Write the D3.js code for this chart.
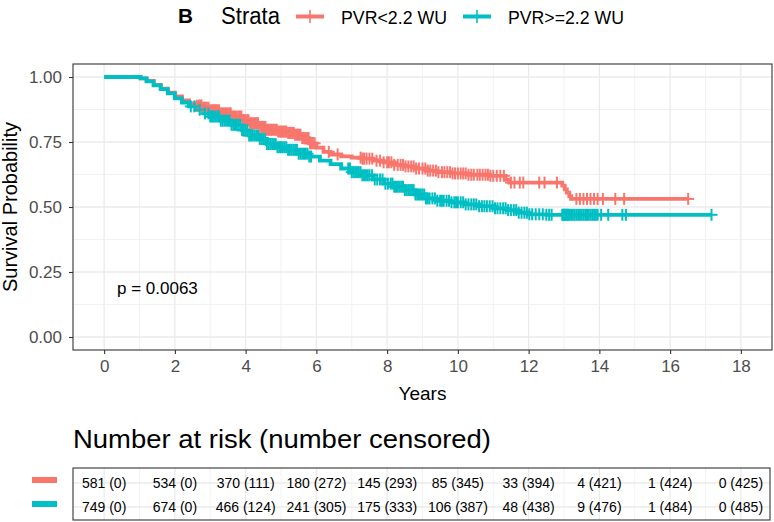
<!DOCTYPE html>
<html>
<head>
<meta charset="utf-8">
<script src="https://cdn.jsdelivr.net/npm/d3@7"></script>
<style>
  body { margin: 0; background: #fff; }
  svg { font-family: "Liberation Sans", Arial, sans-serif; display: block; }
</style>
</head>
<body>
<div id="chart"></div>
<script>
// strata
const strata = ["PVR<2.2 WU", "PVR>=2.2 WU"];
const colors = ["#F8766D", "#00BFC4"];

// KM steps (years, survival)
const timeRed = [0, 1.03, 1.2, 1.4, 1.6, 1.8, 2.0, 2.2, 2.4, 2.6, 2.8, 3.0, 3.3, 3.6, 3.9, 4.1, 4.4, 4.6, 4.9, 5.2, 5.4, 5.6, 5.8, 6.0, 6.2, 6.4, 6.7, 7.0, 7.3, 7.6, 7.9, 8.2, 8.5, 8.8, 9.1, 9.4, 9.8, 10.3, 10.9, 11.35, 11.45, 12.95, 13.02, 13.08, 13.15, 13.2];
const survRed = [1, 0.995, 0.985, 0.97, 0.955, 0.94, 0.925, 0.91, 0.898, 0.89, 0.882, 0.872, 0.86, 0.848, 0.834, 0.822, 0.808, 0.797, 0.79, 0.785, 0.778, 0.765, 0.745, 0.728, 0.712, 0.702, 0.695, 0.69, 0.686, 0.678, 0.672, 0.662, 0.656, 0.648, 0.64, 0.634, 0.629, 0.624, 0.62, 0.605, 0.594, 0.582, 0.568, 0.555, 0.542, 0.531];
const censorRed = [2.62, 2.68, 2.72, 2.75, 2.8, 2.85, 2.9, 2.95, 3.0, 3.05, 3.09, 3.12, 3.16, 3.2, 3.25, 3.3, 3.34, 3.38, 3.42, 3.45, 3.5, 3.55, 3.58, 3.62, 3.66, 3.7, 3.75, 3.8, 3.84, 3.88, 3.92, 3.95, 4.0, 4.05, 4.08, 4.12, 4.16, 4.2, 4.24, 4.28, 4.32, 4.35, 4.4, 4.45, 4.48, 4.52, 4.56, 4.6, 4.64, 4.68, 4.72, 4.75, 4.8, 4.85, 4.88, 4.92, 4.96, 5.0, 5.04, 5.08, 5.12, 5.15, 5.2, 5.25, 5.28, 5.32, 5.36, 5.4, 5.44, 5.48, 5.52, 5.55, 5.6, 5.62, 5.66, 5.7, 5.74, 5.78, 5.82, 5.85, 5.9, 5.95, 6.35, 6.6, 7.25, 7.3, 7.35, 7.42, 7.5, 7.58, 7.7, 7.8, 7.9, 8.0, 8.05, 8.12, 8.2, 8.3, 8.38, 8.45, 8.52, 8.6, 8.68, 8.75, 8.82, 8.9, 9.0, 9.08, 9.15, 9.22, 9.3, 9.38, 9.45, 9.55, 9.62, 9.7, 9.78, 9.85, 9.92, 10.0, 10.08, 10.15, 10.22, 10.3, 10.38, 10.45, 10.55, 10.62, 10.7, 10.78, 10.85, 10.92, 11.0, 11.1, 11.2, 11.3, 11.5, 11.6, 11.75, 11.85, 12.3, 12.45, 12.8, 13.35, 13.45, 13.55, 13.65, 13.75, 13.85, 13.95, 14.1, 14.45, 14.7, 16.51];

const timeCyan = [0, 1.03, 1.2, 1.4, 1.6, 1.8, 2.0, 2.2, 2.4, 2.6, 2.8, 3.0, 3.3, 3.6, 3.9, 4.1, 4.4, 4.6, 4.9, 5.2, 5.5, 5.8, 6.1, 6.4, 6.7, 7.0, 7.3, 7.6, 7.9, 8.2, 8.5, 8.8, 9.1, 9.4, 9.8, 10.2, 10.6, 11.0, 11.4, 11.7, 12.0, 12.5];
const survCyan = [1, 0.995, 0.983, 0.968, 0.953, 0.937, 0.918, 0.902, 0.887, 0.874, 0.86, 0.848, 0.832, 0.816, 0.795, 0.775, 0.762, 0.742, 0.73, 0.72, 0.705, 0.694, 0.678, 0.665, 0.648, 0.634, 0.622, 0.606, 0.59, 0.578, 0.565, 0.548, 0.533, 0.524, 0.518, 0.51, 0.503, 0.495, 0.488, 0.478, 0.472, 0.47];
const censorCyan = [2.45, 2.55, 2.7, 2.85, 2.95, 3.0, 3.05, 3.1, 3.15, 3.2, 3.25, 3.3, 3.35, 3.4, 3.45, 3.5, 3.55, 3.6, 3.65, 3.7, 3.75, 3.8, 3.85, 3.9, 3.95, 4.0, 4.05, 4.1, 4.15, 4.2, 4.25, 4.3, 4.35, 4.4, 4.45, 4.5, 4.55, 4.6, 4.65, 4.7, 4.75, 4.8, 4.85, 4.9, 4.95, 5.0, 5.05, 5.1, 5.15, 5.2, 5.25, 5.3, 5.35, 5.4, 5.45, 5.5, 5.55, 5.6, 5.65, 5.7, 5.75, 5.8, 5.85, 6.9, 6.95, 7.0, 7.05, 7.1, 7.15, 7.2, 7.25, 7.3, 7.35, 7.4, 7.45, 7.5, 7.57, 7.65, 7.72, 7.8, 7.87, 7.95, 8.02, 8.1, 8.15, 8.2, 8.25, 8.3, 8.35, 8.4, 8.45, 8.5, 8.55, 8.6, 8.65, 8.7, 8.75, 8.8, 8.85, 8.9, 8.95, 9.0, 9.05, 9.1, 9.15, 9.2, 9.28, 9.35, 9.42, 9.5, 9.55, 9.6, 9.68, 9.75, 9.82, 9.9, 9.95, 10.0, 10.08, 10.15, 10.22, 10.3, 10.38, 10.45, 10.52, 10.6, 10.68, 10.75, 10.82, 10.9, 10.98, 11.05, 11.12, 11.2, 11.28, 11.35, 11.42, 11.5, 11.58, 11.65, 11.72, 11.8, 11.88, 11.95, 12.02, 12.1, 12.2, 12.3, 12.4, 12.5, 12.58, 12.65, 12.95, 12.98, 13.0, 13.02, 13.05, 13.08, 13.1, 13.12, 13.15, 13.2, 13.25, 13.3, 13.35, 13.4, 13.45, 13.5, 13.55, 13.6, 13.65, 13.7, 13.75, 13.8, 13.85, 13.9, 13.95, 14.05, 14.25, 14.65, 14.75, 17.17];

// risk table
const riskTimes = [0, 2, 4, 6, 8, 10, 12, 14, 16, 18];
const riskRed = [581, 534, 370, 180, 145, 85, 33, 4, 1, 0];
const censRed = [0, 0, 111, 272, 293, 345, 394, 421, 424, 425];
const riskCyan = [749, 674, 466, 241, 175, 106, 48, 9, 1, 0];
const censCyan = [0, 0, 124, 305, 333, 387, 438, 476, 484, 485];

const xTicks = [0, 2, 4, 6, 8, 10, 12, 14, 16, 18];
const yTicks = [0, 0.25, 0.5, 0.75, 1];
const pText = "p = 0.0063";

const W = 774, H = 522;
const panel = {left: 73, right: 772, top: 64, bottom: 350};
const tbl = {top: 468, bottom: 520};

const svg = d3.select("#chart").append("svg")
  .attr("width", W).attr("height", H);

const x = d3.scaleLinear().domain([-0.88, 18.88]).range([panel.left, panel.right]);
const y = d3.scaleLinear().domain([-0.05, 1.05]).range([panel.bottom, panel.top]);

// grid
const grid = svg.append("g");
d3.range(1, 18, 2).forEach(v => {
  grid.append("line").attr("x1", x(v)).attr("x2", x(v))
    .attr("y1", panel.top).attr("y2", panel.bottom)
    .attr("stroke", "#EFEFEF").attr("stroke-width", 0.9);
});
[0.125, 0.375, 0.625, 0.875].forEach(v => {
  grid.append("line").attr("x1", panel.left).attr("x2", panel.right)
    .attr("y1", y(v)).attr("y2", y(v))
    .attr("stroke", "#EFEFEF").attr("stroke-width", 0.9);
});
xTicks.forEach(v => {
  grid.append("line").attr("x1", x(v)).attr("x2", x(v))
    .attr("y1", panel.top).attr("y2", panel.bottom)
    .attr("stroke", "#EBEBEB").attr("stroke-width", 1.3);
});
yTicks.forEach(v => {
  grid.append("line").attr("x1", panel.left).attr("x2", panel.right)
    .attr("y1", y(v)).attr("y2", y(v))
    .attr("stroke", "#EBEBEB").attr("stroke-width", 1.3);
});

// curves
const series = [
  {t: timeRed, s: survRed, c: censorRed, col: colors[0]},
  {t: timeCyan, s: survCyan, c: censorCyan, col: colors[1]}
];
const survAt = (sr, t) => {
  let v = sr.s[0];
  for (let i = 0; i < sr.t.length; i++) { if (sr.t[i] <= t) v = sr.s[i]; }
  return v;
};
const line = d3.line().x(d => x(d[0])).y(d => y(d[1])).curve(d3.curveStepAfter);

series.forEach(sr => {
  const pts = sr.t.map((t, i) => [t, sr.s[i]]);
  const last = d3.max(sr.c);
  pts.push([last, survAt(sr, last)]);
  svg.append("path").datum(pts)
    .attr("d", line)
    .attr("fill", "none")
    .attr("stroke", sr.col)
    .attr("stroke-width", 3.8);
});

series.forEach(sr => {
  const g = svg.append("g").attr("stroke", sr.col).attr("stroke-width", 2);
  sr.c.forEach(t => {
    const cx = x(t), cy = y(survAt(sr, t));
    g.append("line").attr("x1", cx).attr("x2", cx).attr("y1", cy - 6).attr("y2", cy + 6);
    g.append("line").attr("x1", cx - 6).attr("x2", cx + 6).attr("y1", cy).attr("y2", cy);
  });
});

// panel border
svg.append("rect")
  .attr("x", panel.left).attr("y", panel.top)
  .attr("width", panel.right - panel.left).attr("height", panel.bottom - panel.top)
  .attr("fill", "none").attr("stroke", "#333").attr("stroke-width", 1.1);

// axes
const xAxis = svg.append("g")
  .attr("transform", `translate(0,${panel.bottom})`)
  .call(d3.axisBottom(x).tickValues(xTicks).tickSize(4).tickPadding(6));
const yAxis = svg.append("g")
  .attr("transform", `translate(${panel.left},0)`)
  .call(d3.axisLeft(y).tickValues(yTicks).tickFormat(d3.format(".2f")).tickSize(4).tickPadding(7));
[xAxis, yAxis].forEach(a => {
  a.select(".domain").remove();
  a.selectAll(".tick line").attr("stroke", "#333").attr("stroke-width", 1.1);
  a.selectAll(".tick text").attr("fill", "#4D4D4D")
    .style("font-size", "17px").style("font-family", "Liberation Sans, Arial, sans-serif");
});

svg.append("text")
  .attr("x", (panel.left + panel.right) / 2).attr("y", 400)
  .attr("text-anchor", "middle").style("font-size", "19px")
  .text("Years");
svg.append("text")
  .attr("transform", `translate(17,${(panel.top + panel.bottom) / 2}) rotate(-90)`)
  .attr("text-anchor", "middle").style("font-size", "20px")
  .text("Survival Probability");

svg.append("text")
  .attr("x", 117).attr("y", 294).style("font-size", "17px")
  .text(pText);

// top legend
svg.append("text").attr("x", 178).attr("y", 23)
  .style("font-size", "21px").style("font-weight", "bold")
  .attr("textLength", 15).attr("lengthAdjust", "spacingAndGlyphs")
  .text("B");
svg.append("text").attr("x", 221).attr("y", 24)
  .style("font-size", "23px")
  .attr("textLength", 59).attr("lengthAdjust", "spacingAndGlyphs")
  .text("Strata");
const legKeys = [
  {x0: 296, tx: 341, tw: 106},
  {x0: 463, tx: 508, tw: 116}
];
legKeys.forEach((k, i) => {
  svg.append("line").attr("x1", k.x0).attr("x2", k.x0 + 28).attr("y1", 16.5).attr("y2", 16.5)
    .attr("stroke", colors[i]).attr("stroke-width", 4);
  svg.append("line").attr("x1", k.x0 + 14).attr("x2", k.x0 + 14).attr("y1", 10).attr("y2", 23)
    .attr("stroke", colors[i]).attr("stroke-width", 1.6);
  svg.append("text").attr("x", k.tx).attr("y", 23.5)
    .style("font-size", "19px")
    .attr("textLength", k.tw).attr("lengthAdjust", "spacingAndGlyphs")
    .text(strata[i]);
});

// risk table
svg.append("text").attr("x", 73).attr("y", 448)
  .style("font-size", "25px")
  .attr("textLength", 418).attr("lengthAdjust", "spacingAndGlyphs")
  .text("Number at risk (number censored)");

const rowY = [483, 507];
const tg = svg.append("g");
d3.range(0, 19).forEach(v => {
  tg.append("line").attr("x1", x(v)).attr("x2", x(v))
    .attr("y1", tbl.top).attr("y2", tbl.bottom)
    .attr("stroke", v % 2 ? "#F2F2F2" : "#EBEBEB").attr("stroke-width", v % 2 ? 0.9 : 1.3);
});
rowY.forEach(ry => {
  tg.append("line").attr("x1", panel.left).attr("x2", 770)
    .attr("y1", ry).attr("y2", ry).attr("stroke", "#EBEBEB").attr("stroke-width", 1.3);
});
svg.append("rect")
  .attr("x", panel.left).attr("y", tbl.top)
  .attr("width", 770 - panel.left).attr("height", tbl.bottom - tbl.top)
  .attr("fill", "none").attr("stroke", "#333").attr("stroke-width", 1.1);

const rows = [
  {risk: riskRed, cens: censRed},
  {risk: riskCyan, cens: censCyan}
];
rows.forEach((r, i) => {
  svg.append("g").selectAll("text")
    .data(riskTimes).enter().append("text")
    .attr("x", d => x(d)).attr("y", rowY[i])
    .attr("dy", "0.36em")
    .attr("text-anchor", "middle").style("font-size", "14px")
    .text((d, j) => `${r.risk[j]} (${r.cens[j]})`);
  svg.append("rect").attr("x", 32).attr("y", rowY[i] - 6).attr("width", 25).attr("height", 6)
    .attr("fill", colors[i]);
});
</script>
</body>
</html>
